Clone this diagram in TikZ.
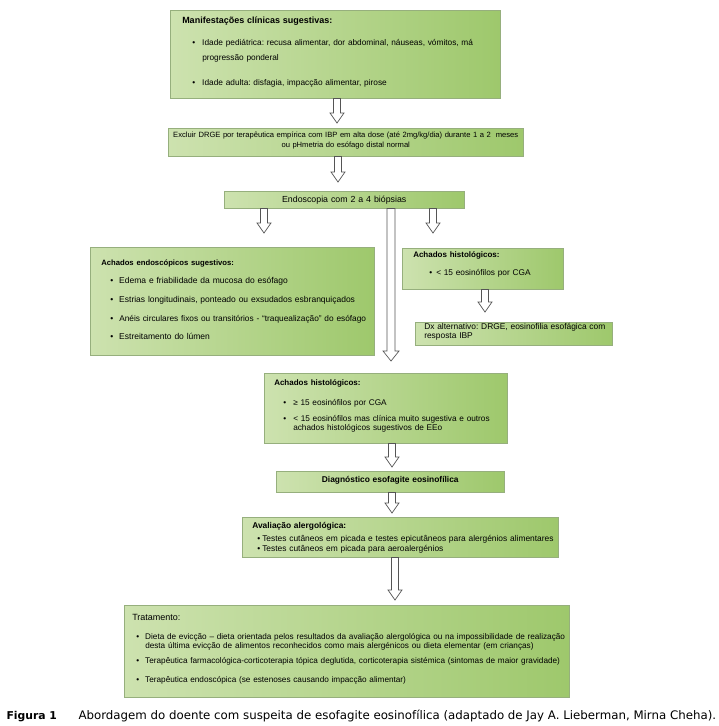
\documentclass[tikz,border=0pt]{standalone}
\usepackage{fontspec}
\setmainfont{Liberation Sans}
\newfontfamily\capfont{DejaVu Sans}
\usetikzlibrary{calc}
\definecolor{caixaborda}{RGB}{150,175,125}
\definecolor{verdeclaro}{RGB}{205,226,175}
\definecolor{verdemeio}{RGB}{238,244,228}
\definecolor{verdeescuro}{RGB}{158,200,108}
\definecolor{setacor}{RGB}{85,85,85}
\frenchspacing
\hyphenpenalty=10000
\newcommand{\itm}[2]{\hspace*{#1pt}\makebox[#2pt][l]{\textbullet}}
\newcommand{\topo}[1]{\rule{0pt}{#1pt}}
\newcommand{\fundo}[1]{\rule[-#1pt]{0pt}{#1pt}}
\newcommand{\titulo}[2]{{\fontsize{#1}{#1}\selectfont\bfseries #2}}
\newcommand{\seta}[5][3.5]{%
  \coordinate (sx) at (#4,0);
  \draw[seta] let \p1=(#2.south -| sx), \p2=($(#3.north -| sx)+(0,-#5)$) in
    (\x1-#1pt,\y1) -- (\x1-#1pt,\y2+10pt) -- (\x1-2*#1pt,\y2+10pt) -- (\x1,\y2)
    -- (\x1+2*#1pt,\y2+10pt) -- (\x1+#1pt,\y2+10pt) -- (\x1+#1pt,\y1) -- cycle;}

\begin{document}
\begin{tikzpicture}[x=1pt, y=-1pt,
    caixa/.style={draw=caixaborda, line width=0.5pt, left color=verdeclaro,
      middle color=verdemeio, right color=verdeescuro, anchor=north west,
      align=left, inner ysep=0pt},
    seta/.style={draw=setacor, fill=white, line width=0.7pt, line join=miter}]
    \useasboundingbox[fill=white] (0,0) rectangle (719,726);

    % Manifestações clínicas
    \node[caixa, text width=306pt, inner xsep=12pt,
      font=\fontsize{8.3}{15}\selectfont] (manif) at (170,10)
      {\topo{13}\titulo{9}{Manifestações clínicas sugestivas:}\\[7pt]
       \itm{10}{10}\mbox{Idade pediátrica: recusa alimentar, dor abdominal, náuseas, vómitos, má}\\
       \hspace*{20pt}progressão ponderal\\[10pt]
       \itm{10}{10}Idade adulta: disfagia, impacção alimentar, pirose\fundo{13}};

    % Excluir DRGE
    \node[caixa, text width=347pt, inner xsep=4pt, align=center,
      font=\fontsize{7.6}{9.5}\selectfont] (excl) at (168,128)
      {\topo{9.5}\mbox{Excluir DRGE por terapêutica empírica com IBP em alta dose (até 2mg/kg/dia) durante 1 a 2 \ meses}\\
       ou pHmetria do esófago distal normal\fundo{9}};

    % Endoscopia
    \node[caixa, text width=232pt, inner xsep=4pt, align=center,
      font=\fontsize{8.8}{10}\selectfont] (endo) at (224,191)
      {\topo{11}Endoscopia com 2 a 4 biópsias\fundo{6}};

    % Achados endoscópicos
    \node[caixa, text width=262pt, inner xsep=11pt,
      font=\fontsize{8.5}{18.6}\selectfont] (endosc) at (90,247)
      {\topo{18}\titulo{7.7}{Achados endoscópicos sugestivos:}\\
       \itm{9}{9}Edema e friabilidade da mucosa do esófago\\
       \itm{9}{9}\mbox{Estrias longitudinais, ponteado ou exsudados esbranquiçados}\\
       \itm{9}{9}\mbox{\fontsize{8.3}{18.6}\selectfont Anéis circulares fixos ou transitórios - “traquealização” do esófago}\\
       \itm{9}{9}Estreitamento do lúmen\fundo{15.5}};

    % Achados histológicos (< 15)
    \node[caixa, text width=139pt, inner xsep=11pt,
      font=\fontsize{8.3}{17.5}\selectfont] (histr) at (402,248)
      {\topo{9.5}\titulo{8}{Achados histológicos:}\\
       \itm{16}{7}< 15 eosinófilos por CGA\fundo{14}};

    % Dx alternativo
    \node[caixa, text width=179pt, inner xsep=9pt,
      font=\fontsize{8.4}{9.5}\selectfont] (dx) at (415,322)
      {\topo{7}\mbox{Dx alternativo: DRGE, eosinofilia esofágica com}\\
       resposta IBP\fundo{6.5}};

    % Achados histológicos (>= 15)
    \node[caixa, text width=223pt, inner xsep=10pt,
      font=\fontsize{8.25}{9}\selectfont] (histc) at (264,373)
      {\topo{12.5}\titulo{8}{Achados histológicos:}\\[10.5pt]
       \itm{9}{10}≥ 15 eosinófilos por CGA\\[7.5pt]
       \itm{9}{10}\mbox{< 15 eosinófilos mas clínica muito sugestiva e outros}\\
       \hspace*{19pt}achados histológicos sugestivos de EEo\fundo{12.5}};

    % Diagnóstico
    \node[caixa, text width=220pt, inner xsep=4pt, align=center,
      font=\fontsize{8.4}{10}\selectfont\bfseries] (diag) at (276,471)
      {\topo{11}Diagnóstico esofagite eosinofílica\fundo{10}};

    % Avaliação alergológica
    \node[caixa, text width=296pt, inner xsep=10pt,
      font=\fontsize{8.4}{10.5}\selectfont] (aval) at (242,517)
      {\topo{11}\titulo{8.4}{Avaliação alergológica:}\\[2.5pt]
       \itm{5}{5}\mbox{Testes cutâneos em picada e testes epicutâneos para alergénios alimentares}\\
       \itm{5}{5}Testes cutâneos em picada para aeroalergénios\fundo{5.5}};

    % Tratamento
    \node[caixa, text width=429pt, inner xsep=8pt,
      font=\fontsize{8.2}{9}\selectfont] (trat) at (124,605)
      {\topo{15}{\fontsize{9}{9}\selectfont Tratamento:}\\[10pt]
       \itm{4}{9}\mbox{Dieta de evicção – dieta orientada pelos resultados da avaliação alergológica ou na impossibilidade de realização}\\
       \hspace*{13pt}\mbox{desta última evicção de alimentos reconhecidos como mais alergénicos ou dieta elementar (em crianças)}\\[6pt]
       \itm{4}{9}\mbox{Terapêutica farmacológica-corticoterapia tópica deglutida, corticoterapia sistémica (sintomas de maior gravidade)}\\[10.5pt]
       \itm{4}{9}Terapêutica endoscópica (se estenoses causando impacção alimentar)\fundo{14.5}};

    % Setas
    \foreach \src/\dst/\xx/\gap in {manif/excl/337/5, excl/endo/338/9, endo/endosc/264/14,
        endo/histr/433/15, histr/dx/485/10, histc/diag/392/4, diag/aval/392/4, aval/trat/395/5}
      {\seta{\src}{\dst}{\xx}{\gap}}
    \seta[4]{endo}{histc}{391}{12}

    % Legenda
    \node[anchor=base west, font=\capfont\fontsize{10.8}{12}\selectfont\bfseries] (fig) at (3,719) {Figura 1};
    \node[anchor=base west, font=\capfont\fontsize{11.8}{13}\selectfont] (legenda) at (75,719)
      {Abordagem do doente com suspeita de esofagite eosinofílica (adaptado de Jay A. Lieberman, Mirna Cheha).};
\end{tikzpicture}
\end{document}
